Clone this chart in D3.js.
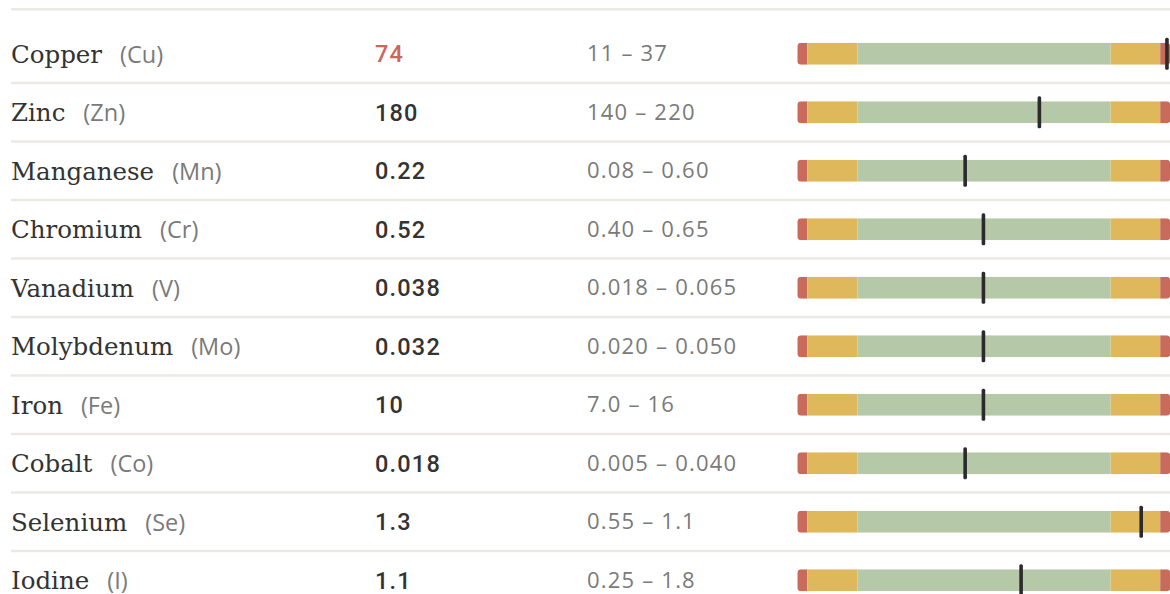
<html>

<head>
    <style>
        body { margin: 0; background: #fff; }
        .name { font-family: 'DejaVu Serif', serif; font-size: 24.5px; fill: #333; }
        .sym { font-family: 'Open Sans', sans-serif; font-size: 23.5px; fill: #7a7a7a; }
        .value { font-family: Roboto, 'Open Sans', sans-serif; font-size: 23.5px; font-weight: 500; letter-spacing: 1.2px; fill: #333; }
        .value.out { fill: #c8675a; }
        .range { font-family: 'Open Sans', sans-serif; font-size: 22px; letter-spacing: 1.2px; fill: #7a7a7a; }
        .rule { stroke: #ece9e4; stroke-width: 2.5; }
        .marker { fill: #2b2b2b; }
    </style>
</head>

<body>
    <svg id="container" height="594" width="1170">
        <g id="body"></g>
    </svg>
</body>

<script src="https://cdn.jsdelivr.net/npm/d3@7"></script>
<script>
    // Data
    let names = ["Copper", "Zinc", "Manganese", "Chromium", "Vanadium", "Molybdenum", "Iron", "Cobalt", "Selenium", "Iodine"];
    let symbols = ["Cu", "Zn", "Mn", "Cr", "V", "Mo", "Fe", "Co", "Se", "I"];
    let values = ["74", "180", "0.22", "0.52", "0.038", "0.032", "10", "0.018", "1.3", "1.1"];
    let ranges = ["11 – 37", "140 – 220", "0.08 – 0.60", "0.40 – 0.65", "0.018 – 0.065", "0.020 – 0.050", "7.0 – 16", "0.005 – 0.040", "0.55 – 1.1", "0.25 – 1.8"];
    let outOfRange = [true, false, false, false, false, false, false, false, false, false];
    // marker position along the status bar, 0–100
    let positions = [99.1, 64.9, 45.0, 49.9, 49.9, 49.9, 49.9, 45.0, 92.2, 60.0];
    // status zones along the bar
    let zoneStops = [0, 2.7, 16.1, 84.0, 97.3, 100];
    let zoneColors = ["#c96b5a", "#dfb85c", "#b5c9a9", "#dfb85c", "#c96b5a"];

    let body = d3.select("#body");

    let rows = names.map((d, i) => ({
        name: d,
        symbol: symbols[i],
        value: values[i],
        range: ranges[i],
        out: outOfRange[i],
        pos: positions[i]
    }));

    // Scales
    let yScale = d3.scaleBand()
        .domain(names)
        .range([24.5, 24.5 + 58.5 * names.length]);

    let xScale = d3.scaleLinear()
        .domain([0, 100])
        .range([797.3, 1170.3]);

    let barHeight = 22;
    let markerHeight = 32;

    // header rule + row separators
    body.append("line")
        .attr("class", "rule")
        .attr("x1", 11).attr("x2", 1170)
        .attr("y1", 9.3).attr("y2", 9.3);

    body.selectAll(".sep")
        .data(names.slice(1))
        .join("line")
        .attr("class", "rule sep")
        .attr("x1", 11).attr("x2", 1170)
        .attr("y1", d => yScale(d))
        .attr("y2", d => yScale(d));

    let row = body.selectAll(".row")
        .data(rows)
        .join("g")
        .attr("class", "row")
        .attr("transform", d => `translate(0, ${yScale(d.name) + yScale.bandwidth() / 2})`);

    // name + symbol
    let label = row.append("text")
        .attr("class", "name")
        .attr("x", 11)
        .attr("y", 9);
    label.append("tspan").text(d => d.name);
    label.append("tspan")
        .attr("class", "sym")
        .attr("dx", 18)
        .text(d => `(${d.symbol})`);

    row.append("text")
        .attr("class", d => d.out ? "value out" : "value")
        .attr("x", 375)
        .attr("y", 8.5)
        .text(d => d.value);

    row.append("text")
        .attr("class", "range")
        .attr("x", 587)
        .attr("y", 7.5)
        .text(d => d.range);

    // rounded clip for the status bar
    let defs = d3.select("#container").append("defs");
    defs.append("clipPath")
        .attr("id", "barClip")
        .append("rect")
        .attr("x", xScale(0))
        .attr("y", -barHeight / 2)
        .attr("width", xScale(100) - xScale(0))
        .attr("height", barHeight)
        .attr("rx", 4);

    let bar = row.append("g")
        .attr("clip-path", "url(#barClip)");

    bar.selectAll("rect")
        .data(zoneColors.map((c, i) => ({ color: c, from: zoneStops[i], to: zoneStops[i + 1] })))
        .join("rect")
        .attr("x", d => xScale(d.from))
        .attr("y", -barHeight / 2)
        .attr("width", d => xScale(d.to) - xScale(d.from))
        .attr("height", barHeight)
        .attr("fill", d => d.color);

    row.append("rect")
        .attr("class", "marker")
        .attr("x", d => xScale(d.pos) - 1.8)
        .attr("y", -markerHeight / 2)
        .attr("width", 3.6)
        .attr("height", markerHeight)
        .attr("rx", 1.5);
</script>

</html>
